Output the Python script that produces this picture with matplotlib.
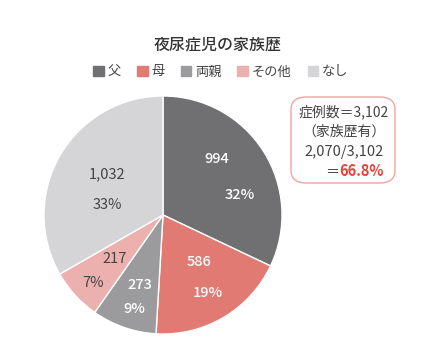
import matplotlib
matplotlib.use('Agg')
import numpy as np
import matplotlib.pyplot as plt
from matplotlib.patches import FancyBboxPatch

plt.rcParams['font.family'] = ['Noto Sans CJK JP', 'DejaVu Sans']

# data
categories = ['父', '母', '両親', 'その他', 'なし']
counts = [994, 586, 273, 217, 1032]
percents = ['32%', '19%', '9%', '7%', '33%']
count_labels = ['994', '586', '273', '217', '1,032']

# styling
colors = ['#706f71', '#e07a72', '#9b9b9d', '#ecb1af', '#d5d5d7']
text_colors = ['white', 'white', 'white', '#444444', '#444444']
text_weights = ['medium', 'medium', 'medium', 'normal', 'normal']
# label placement: (angle shift from wedge middle in deg, radius fraction)
value_place = [(14, 0.65), (7, 0.49), (1, 0.61), (0, 0.55), (-6, 0.58)]
pct_place = [(-18, 0.66), (-1, 0.75), (2, 0.82), (2, 0.81), (20, 0.47)]

fig = plt.figure(figsize=(4.4, 3.6), dpi=100)
fig.patch.set_facecolor('white')

# pie axes: center ~ (163, 215) px, radius ~119 px
ax = fig.add_axes([(163 - 120) / 440, (360 - 215 - 120) / 360, 240 / 440, 240 / 360])
wedges, _ = ax.pie(counts, colors=colors, startangle=90, counterclock=False,
                   radius=119 / 120,
                   wedgeprops=dict(edgecolor='white', linewidth=1.0))
ax.set_xlim(-1, 1)
ax.set_ylim(-1, 1)
ax.set_aspect('equal')

for i, w in enumerate(wedges):
    mid = (w.theta1 + w.theta2) / 2
    for txt, (da, r) in ((count_labels[i], value_place[i]), (percents[i], pct_place[i])):
        a = np.deg2rad(mid + da)
        ax.text(r * np.cos(a), r * np.sin(a), txt, ha='center', va='center',
                fontsize=10.5, color=text_colors[i], fontweight=text_weights[i])

# title
fig.text(218 / 440, 1 - 45 / 360, '夜尿症児の家族歴', ha='center', va='center',
         fontsize=11.5, color='#333333', fontweight='medium')

# legend
handles = [plt.Rectangle((0, 0), 1, 1, color=c) for c in colors]
fig.legend(handles, categories, loc='center', bbox_to_anchor=(221 / 440, 1 - 72 / 360),
           ncol=5, frameon=False, fontsize=9.5, handlelength=0.8, handleheight=0.8,
           handletextpad=0.3, columnspacing=1.2, labelcolor='#444444')

# info box
box = FancyBboxPatch((291 / 440, 1 - 183 / 360), 104 / 440, 86 / 360,
                     boxstyle='round,pad=0,rounding_size=0.035',
                     transform=fig.transFigure, facecolor='white',
                     edgecolor='#f0a3a0', linewidth=1.0)
fig.patches.append(box)
bx = 344 / 440
fig.text(bx, 1 - 112 / 360, '症例数＝3,102', ha='center', va='center', fontsize=10, color='#444444')
fig.text(bx, 1 - 132 / 360, '（家族歴有）', ha='center', va='center', fontsize=10, color='#444444')
fig.text(bx, 1 - 152 / 360, '2,070/3,102', ha='center', va='center', fontsize=10.5, color='#444444')
fig.text(339 / 440, 1 - 171 / 360, '＝', ha='right', va='center', fontsize=10, color='#444444')
fig.text(339 / 440, 1 - 171 / 360, '66.8%', ha='left', va='center', fontsize=10.5,
         color='#e8413a', fontweight='bold')

fig.savefig('out.png', dpi=100, facecolor='white')
